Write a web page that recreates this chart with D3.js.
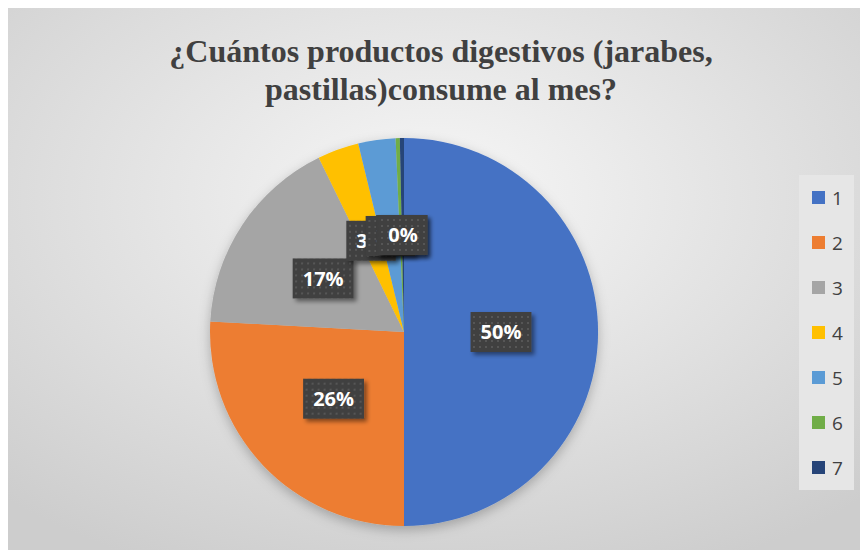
<!DOCTYPE html>
<html>
<head>
<meta charset="utf-8">
<script src="https://cdn.jsdelivr.net/npm/d3@7"></script>
<style>
  body { margin: 0; background: #fff; }
</style>
</head>
<body>
<div id="chart"></div>
<script>
let categories = ['1', '2', '3', '4', '5', '6', '7']
let counts = [145, 75, 49, 10, 9, 1, 1]
let colors = ['#4472c4', '#ed7d31', '#a5a5a5', '#ffc000', '#5b9bd5', '#70ad47', '#264478']
let titleLines = ['¿Cuántos productos digestivos (jarabes,', 'pastillas)consume al mes?']

let DrawPie = function (id) {
    this.svgWidth = 860
    this.svgHeight = 550
    this.svg = d3.select(id).append('svg')
        .attr('width', this.svgWidth)
        .attr('height', this.svgHeight)

    let defs = this.svg.append('defs')

    let bg = defs.append('radialGradient')
        .attr('id', 'bg')
        .attr('cx', '50%').attr('cy', '35%').attr('r', '75%')
    bg.append('stop').attr('offset', '0%').attr('stop-color', '#f7f7f7')
    bg.append('stop').attr('offset', '100%').attr('stop-color', '#cdcdcd')

    let dots = defs.append('pattern')
        .attr('id', 'dots')
        .attr('width', 6).attr('height', 6)
        .attr('patternUnits', 'userSpaceOnUse')
    dots.append('rect').attr('width', 6).attr('height', 6).attr('fill', '#404040')
    dots.append('rect').attr('x', 2).attr('y', 2).attr('width', 2).attr('height', 2).attr('fill', '#575757')

    let shadow = defs.append('filter').attr('id', 'shadow')
        .attr('x', '-30%').attr('y', '-30%').attr('width', '160%').attr('height', '160%')
    shadow.append('feDropShadow')
        .attr('dx', 3).attr('dy', 3).attr('stdDeviation', 2)
        .attr('flood-color', '#000').attr('flood-opacity', 0.45)

    let pieShadow = defs.append('filter').attr('id', 'pieShadow')
        .attr('x', '-20%').attr('y', '-20%').attr('width', '140%').attr('height', '140%')
    pieShadow.append('feDropShadow')
        .attr('dx', 0).attr('dy', 4).attr('stdDeviation', 6)
        .attr('flood-color', '#000').attr('flood-opacity', 0.25)

    this.svg.append('rect')
        .attr('x', 8).attr('y', 8)
        .attr('width', this.svgWidth - 8).attr('height', this.svgHeight - 8)
        .attr('fill', 'url(#bg)')
}

DrawPie.prototype.title = function (lines) {
    this.svg.append('g')
        .selectAll('text')
        .data(lines)
        .join('text')
        .attr('x', 441)
        .attr('y', (d, i) => 62 + i * 38)
        .attr('text-anchor', 'middle')
        .attr('font-family', 'Liberation Serif, serif')
        .attr('font-weight', 'bold')
        .attr('font-size', 32)
        .attr('fill', '#404040')
        .text(d => d)
}

DrawPie.prototype.pie = function (data) {
    let cx = 404
    let cy = 332
    let radius = 194
    let total = d3.sum(data, d => d.value)

    let pie = d3.pie().sort(null).value(d => d.value)
    let arc = d3.arc().innerRadius(0).outerRadius(radius)
    let labelArc = d3.arc().innerRadius(radius * 0.5).outerRadius(radius * 0.5)
    let arcs = pie(data)

    let g = this.svg.append('g')
        .attr('transform', 'translate(' + cx + ',' + cy + ')')

    g.append('g')
        .attr('filter', 'url(#pieShadow)')
        .selectAll('path')
        .data(arcs)
        .join('path')
        .attr('d', arc)
        .attr('fill', d => d.data.color)

    let labels = g.append('g')
        .selectAll('g')
        .data(arcs)
        .join('g')
        .attr('transform', d => 'translate(' + labelArc.centroid(d) + ')')

    let boxes = labels.append('rect')
        .attr('y', -20)
        .attr('height', 40)
        .attr('fill', 'url(#dots)')
        .attr('filter', 'url(#shadow)')

    let texts = labels.append('text')
        .attr('text-anchor', 'middle')
        .attr('dy', '0.36em')
        .attr('font-family', 'Open Sans, sans-serif')
        .attr('font-weight', 'bold')
        .attr('font-size', 20)
        .attr('fill', '#fff')
        .text(d => Math.round(d.data.value / total * 100) + '%')

    // box hugs the label text
    texts.each(function (d) {
        d.boxW = this.getComputedTextLength() + 20
    })
    boxes.attr('x', d => -d.boxW / 2).attr('width', d => d.boxW)
}

DrawPie.prototype.legend = function (data) {
    let g = this.svg.append('g')
    g.append('rect')
        .attr('x', 799).attr('y', 175)
        .attr('width', 55).attr('height', 315)
        .attr('fill', '#e6e6e6')

    let yScale = d3.scalePoint()
        .domain(data.map(d => d.name))
        .range([198, 468])

    let items = g.selectAll('g')
        .data(data)
        .join('g')
        .attr('transform', d => 'translate(812,' + yScale(d.name) + ')')

    items.append('rect')
        .attr('y', -7).attr('width', 13).attr('height', 13)
        .attr('fill', d => d.color)

    items.append('text')
        .attr('x', 20)
        .attr('dy', '0.35em')
        .attr('font-family', 'Open Sans, sans-serif')
        .attr('font-size', 19)
        .attr('fill', '#404040')
        .text(d => d.name)
}

let data = categories.map((c, i) => ({ name: c, value: counts[i], color: colors[i] }))
let chart = new DrawPie('#chart')
chart.title(titleLines)
chart.pie(data)
chart.legend(data)
</script>
</body>
</html>
